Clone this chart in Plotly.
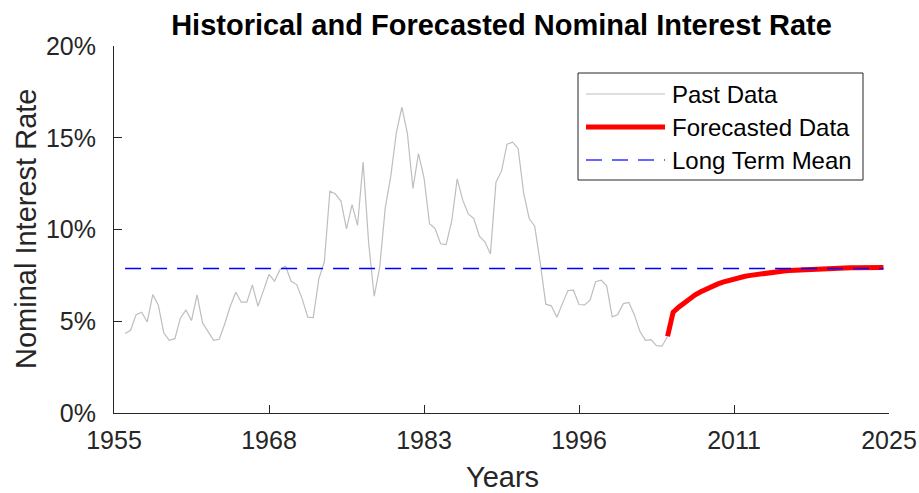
import plotly.graph_objects as go

# ---- data (semiannual, percent) ----
past_start_year = 1956.0
past_values = [4.33, 4.51, 5.36, 5.49, 4.96, 6.45, 5.89, 4.36, 3.96, 4.05,
               5.18, 5.60, 5.04, 6.44, 4.91, 4.44, 3.96, 4.02, 4.85, 5.82,
               6.58, 6.04, 6.04, 6.98, 5.82, 6.67, 7.55, 7.18, 7.82, 8.00,
               7.18, 7.00, 6.22, 5.22, 5.20, 7.31, 8.24, 12.09, 11.93, 11.55,
               10.04, 11.36, 10.22, 13.67, 9.27, 6.36, 7.95, 11.18, 12.91, 15.27,
               16.67, 15.24, 12.24, 14.13, 12.82, 10.31, 10.05, 9.22, 9.18, 10.45,
               12.76, 11.60, 10.85, 10.60, 9.64, 9.33, 8.67, 12.58, 13.18, 14.65,
               14.76, 14.42, 12.00, 10.60, 10.18, 8.18, 5.93, 5.84, 5.22, 5.96,
               6.67, 6.69, 5.91, 5.89, 6.15, 7.15, 7.24, 6.93, 5.24, 5.36,
               5.96, 6.02, 5.36, 4.45, 3.96, 4.00, 3.67, 3.64, 4.18]
forecast_start_year = 2005.0
forecast_values = [4.18, 5.49, 5.77, 6.02, 6.24, 6.44, 6.61, 6.77, 6.90, 7.02,
                   7.13, 7.22, 7.31, 7.38, 7.45, 7.50, 7.55, 7.60, 7.64, 7.68,
                   7.71, 7.74, 7.76, 7.78, 7.80, 7.82, 7.83, 7.85, 7.86, 7.87,
                   7.88, 7.89, 7.90, 7.91, 7.91, 7.92, 7.92, 7.93, 7.93, 7.93]
step = 0.5
long_term_mean = 7.87

past_x = [past_start_year + step * i for i in range(len(past_values))]
fc_x = [forecast_start_year + step * i for i in range(len(forecast_values))]

x_tick_vals = [1955, 1969, 1983, 1997, 2011, 2025]
x_tick_text = ["1955", "1968", "1983", "1996", "2011", "2025"]
y_tick_vals = [0, 5, 10, 15, 20]
y_tick_text = ["0%", "5%", "10%", "15%", "20%"]

legend_labels = ["Past Data", "Forecasted Data", "Long Term Mean"]

GRAY = "#BEBEBE"
RED = "#FF0000"
BLUE = "#0000FF"
AX = "#262626"
FONT = "Liberation Sans, Arial, sans-serif"

fig = go.Figure()
fig.add_trace(go.Scatter(x=past_x, y=past_values, mode="lines",
                         line=dict(color=GRAY, width=1.2), name=legend_labels[0],
                         showlegend=False))
fig.add_trace(go.Scatter(x=fc_x, y=forecast_values, mode="lines",
                         line=dict(color=RED, width=5), name=legend_labels[1],
                         showlegend=False))
fig.add_trace(go.Scatter(x=[past_x[0], fc_x[-1]], y=[long_term_mean, long_term_mean],
                         mode="lines", line=dict(color=BLUE, width=1.5, dash="16px,10px"),
                         name=legend_labels[2], showlegend=False))

# plot area in pixels
W, H = 919, 493
L, R, T, B = 114, 30, 46, 80
pw, ph = W - L - R, H - T - B

def px_x(p):
    return (p - L) / pw

def px_y(p):
    return (H - B - p) / ph

# custom legend (MATLAB style)
box = dict(x0=578, x1=863, y0=73, y1=180)
fig.add_shape(type="rect", xref="paper", yref="paper",
              x0=px_x(box["x0"]), x1=px_x(box["x1"]),
              y0=px_y(box["y1"]), y1=px_y(box["y0"]),
              line=dict(color=AX, width=1), fillcolor="white", layer="above")
rows = [94, 127, 160]
styles = [dict(color=GRAY, width=1.2), dict(color=RED, width=5),
          dict(color="#3333FF", width=1.5, dash="16px,10px")]
for lab, yy, st in zip(legend_labels, rows, styles):
    fig.add_shape(type="line", xref="paper", yref="paper",
                  x0=px_x(586), x1=px_x(665), y0=px_y(yy), y1=px_y(yy),
                  line=st, layer="above")
    fig.add_annotation(xref="paper", yref="paper", x=px_x(670), y=px_y(yy),
                       text=lab, showarrow=False, xanchor="left", yanchor="middle",
                       font=dict(family=FONT, size=24, color="black"))

# axis titles
fig.add_annotation(xref="paper", yref="paper", x=px_x(502), y=px_y(477),
                   text="Years", showarrow=False, xanchor="center", yanchor="middle",
                   font=dict(family=FONT, size=29, color=AX))
fig.add_annotation(xref="paper", yref="paper", x=px_x(26), y=px_y(229),
                   text="Nominal Interest Rate", showarrow=False, textangle=-90,
                   xanchor="center", yanchor="middle",
                   font=dict(family=FONT, size=29, color=AX))

fig.update_layout(
    width=W, height=H,
    margin=dict(l=L, r=R, t=T, b=B, autoexpand=False),
    paper_bgcolor="white", plot_bgcolor="white",
    showlegend=False,
    title=dict(text="<b>Historical and Forecasted Nominal Interest Rate</b>",
               x=(L + pw / 2) / W, xanchor="center", y=1 - 25 / H, yanchor="middle",
               yref="container",
               font=dict(family=FONT, size=29, color="black")),
    xaxis=dict(range=[1955, 2025], tickvals=x_tick_vals, ticktext=x_tick_text,
               ticks="inside", ticklen=8, tickcolor=AX, tickwidth=1,
               showline=True, linecolor=AX, linewidth=1, showgrid=False, zeroline=False,
               tickfont=dict(family=FONT, size=25, color=AX), automargin=False,
               ticklabelstandoff=5),
    yaxis=dict(range=[0, 20], tickvals=y_tick_vals, ticktext=y_tick_text,
               ticks="inside", ticklen=8, tickcolor=AX, tickwidth=1,
               showline=True, linecolor=AX, linewidth=1,
               showgrid=False, zeroline=False, automargin=False,
               tickfont=dict(family=FONT, size=25, color=AX),
               ticklabelstandoff=12),
)

fig.write_html("out.html")
